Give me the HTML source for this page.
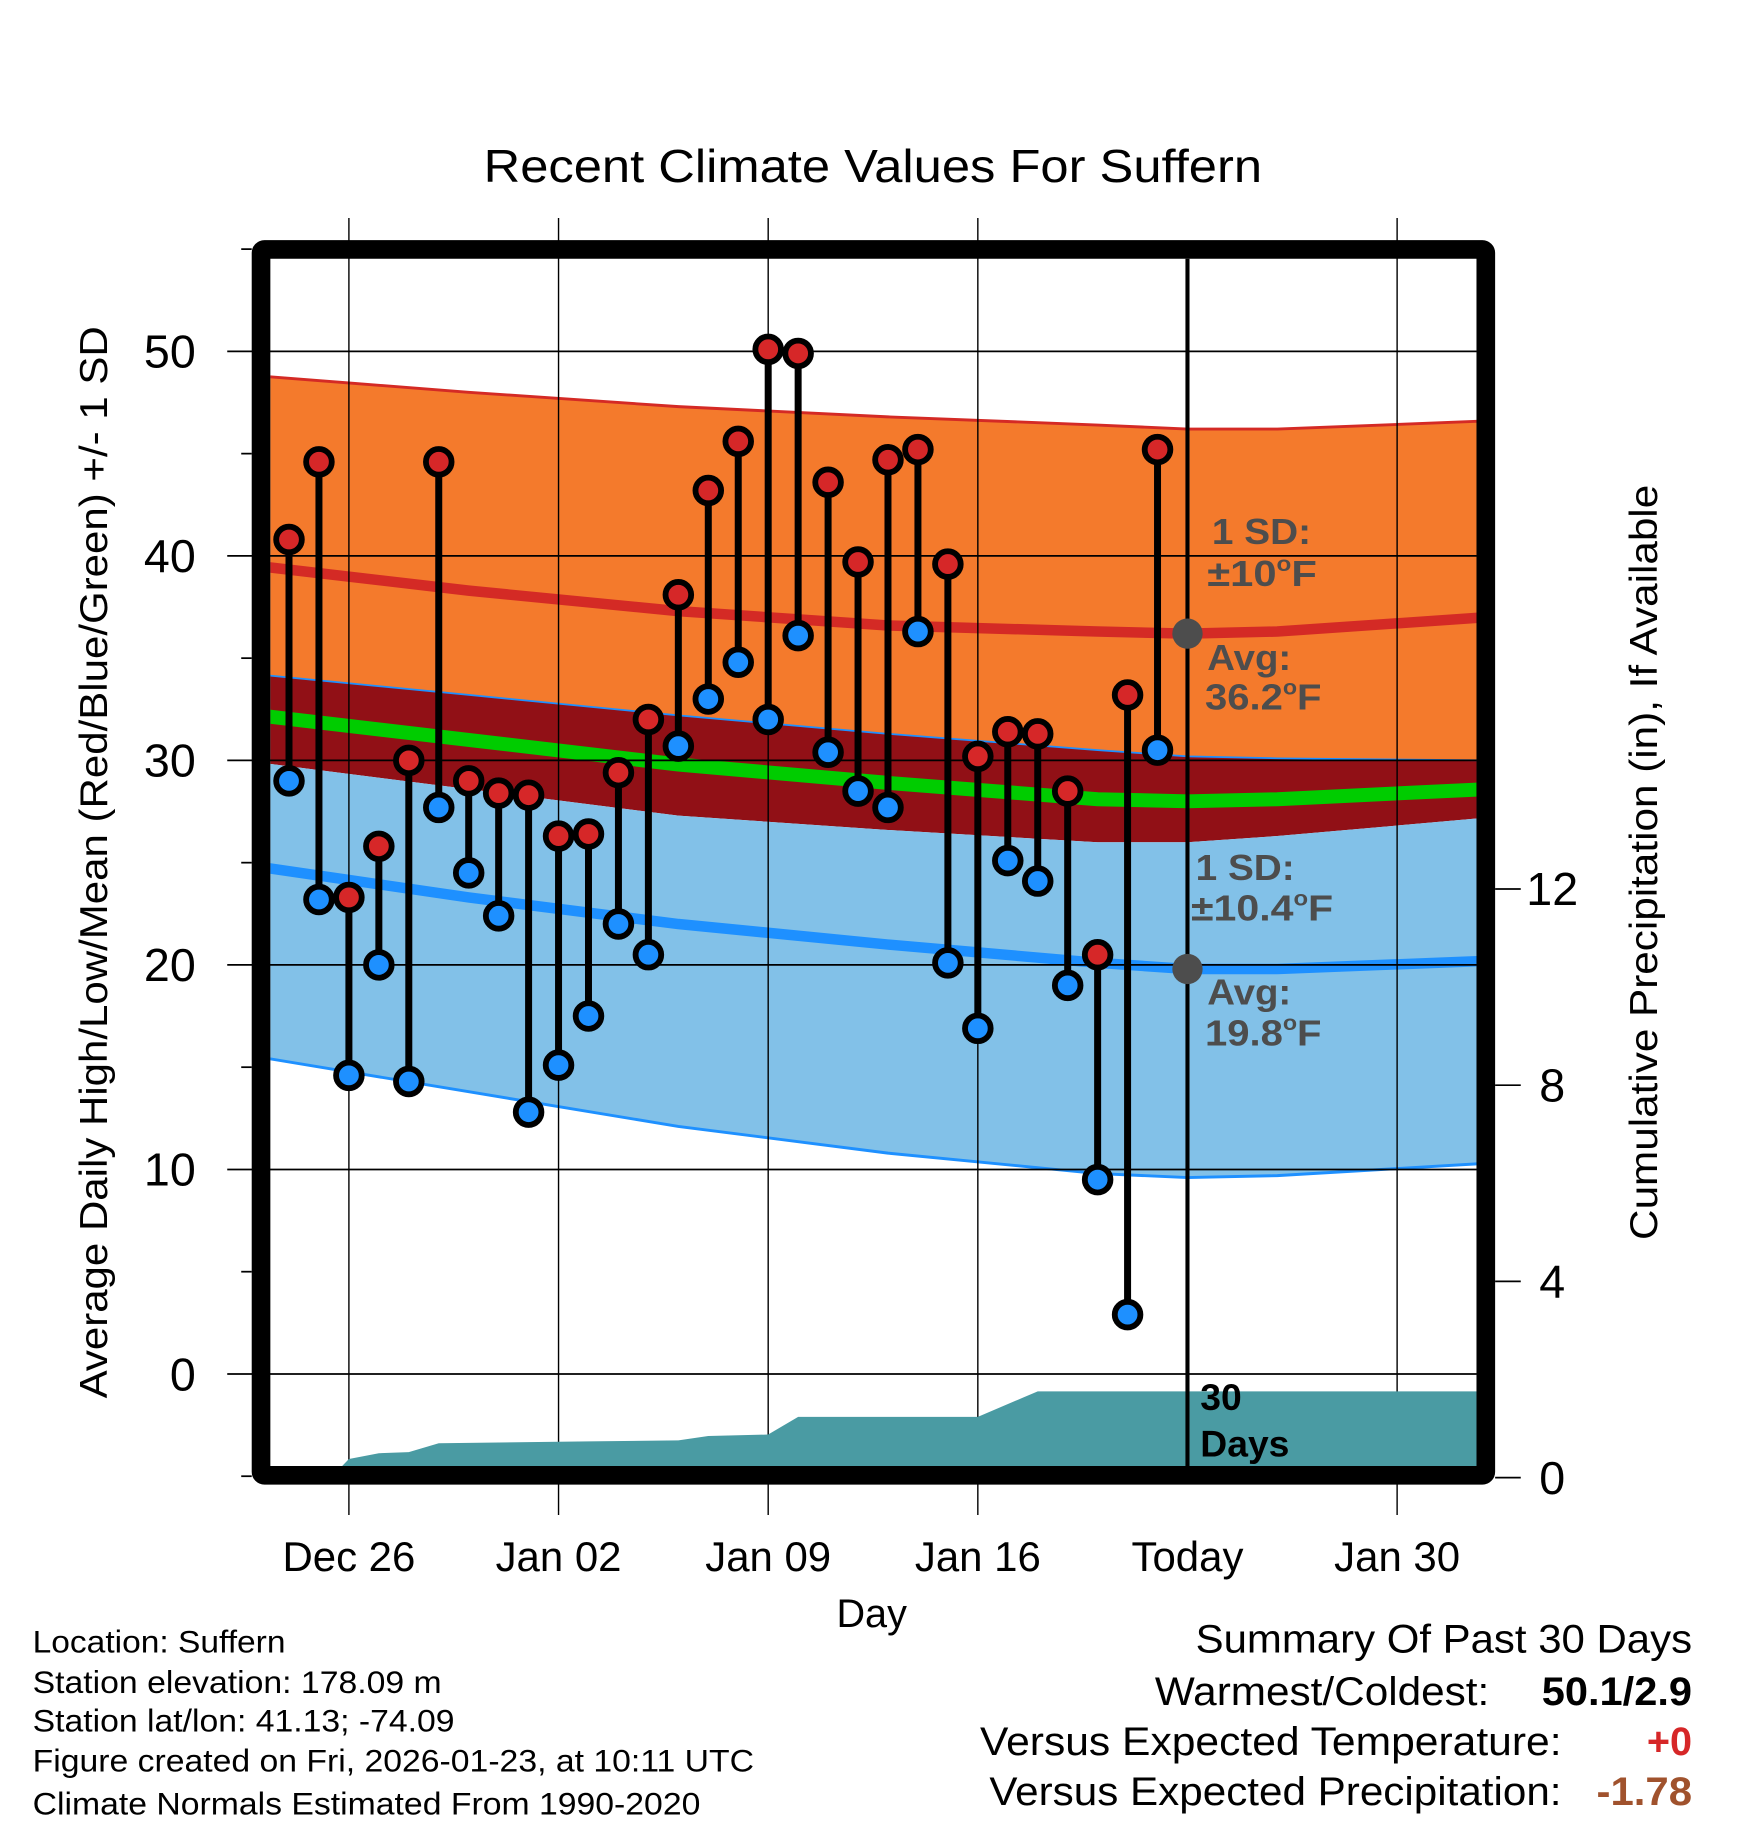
<!DOCTYPE html>
<html><head><meta charset="utf-8"><style>
html,body{margin:0;padding:0;background:#fff;}
svg{display:block;font-family:"Liberation Sans",Arial,sans-serif;}
</style></head><body>
<svg id="chart" width="1748" height="1828" viewBox="0 0 1500 1568.6" xmlns="http://www.w3.org/2000/svg">
<text x="749" y="156" font-size="40" text-anchor="middle" textLength="668" lengthAdjust="spacingAndGlyphs">Recent Climate Values For Suffern</text>
<g id="bands"></g>
<g id="grid"></g>
<g id="precip"></g>
<g id="series"></g>
<g id="annot"></g>
<g id="axes"></g>
<text transform="translate(92,740) rotate(-90)" font-size="33" text-anchor="middle" textLength="920" lengthAdjust="spacingAndGlyphs">Average Daily High/Low/Mean (Red/Blue/Green) +/- 1 SD</text>
<text transform="translate(1422,740) rotate(-90)" font-size="33" text-anchor="middle" textLength="648" lengthAdjust="spacingAndGlyphs">Cumulative Precipitation (in), If Available</text>
<text x="748" y="1396" font-size="34" text-anchor="middle">Day</text>
<g font-size="27">
<text x="28" y="1418" textLength="217" lengthAdjust="spacingAndGlyphs">Location: Suffern</text>
<text x="28" y="1453" textLength="351" lengthAdjust="spacingAndGlyphs">Station elevation: 178.09 m</text>
<text x="28" y="1486" textLength="362" lengthAdjust="spacingAndGlyphs">Station lat/lon: 41.13; -74.09</text>
<text x="28" y="1520" textLength="619" lengthAdjust="spacingAndGlyphs">Figure created on Fri, 2026-01-23, at 10:11 UTC</text>
<text x="28" y="1557" textLength="573" lengthAdjust="spacingAndGlyphs">Climate Normals Estimated From 1990-2020</text>
</g>
<g font-size="34">
<text x="1026" y="1418" textLength="426" lengthAdjust="spacingAndGlyphs">Summary Of Past 30 Days</text>
<text x="991" y="1463" textLength="287" lengthAdjust="spacingAndGlyphs">Warmest/Coldest:</text>
<text x="1323" y="1463" font-weight="bold" textLength="129" lengthAdjust="spacingAndGlyphs">50.1/2.9</text>
<text x="841" y="1506" textLength="499" lengthAdjust="spacingAndGlyphs">Versus Expected Temperature:</text>
<text x="1452" y="1506" text-anchor="end" font-weight="bold" fill="#d62728">+0</text>
<text x="849" y="1549" textLength="491" lengthAdjust="spacingAndGlyphs">Versus Expected Precipitation:</text>
<text x="1370" y="1549" font-weight="bold" fill="#a0522d" textLength="82" lengthAdjust="spacingAndGlyphs">-1.78</text>
</g>
</svg>
<script>
// ---- data ----
const dayOffsets = [-30,-29,-28,-27,-26,-25,-24,-23,-22,-21,-20,-19,-18,-17,-16,-15,-14,-13,-12,-11,-10,-9,-8,-7,-6,-5,-4,-3,-2,-1];
const highs = [40.8,44.6,23.3,25.8,30.0,44.6,29.0,28.4,28.3,26.3,26.4,29.4,32.0,38.1,43.2,45.6,50.1,49.9,43.6,39.7,44.7,45.2,39.6,30.2,31.4,31.3,28.5,20.5,33.2,45.2];
const lows = [29.0,23.2,14.6,20.0,14.3,27.7,24.5,22.4,12.8,15.1,17.5,22.0,20.5,30.7,33.0,34.8,32.0,36.1,30.4,28.5,27.7,36.3,20.1,16.9,25.1,24.1,19.0,9.5,2.9,30.5];
const normDays = [-31,-24,-17,-10,-3,0,3,10];
const highPlus = [48.8,48.0,47.3,46.8,46.4,46.2,46.2,46.6];
const highAvg = [39.5,38.3,37.3,36.6,36.3,36.2,36.3,37.0];
const highMinus = [34.2,33.2,32.2,31.3,30.5,30.2,30.1,30.0];
const meanAvg = [32.2,31.0,29.8,28.9,28.1,28.0,28.1,28.6];
const lowPlus = [29.9,28.6,27.3,26.6,26.0,26.0,26.3,27.2];
const lowAvg = [24.8,23.3,22.0,21.0,20.1,19.8,19.8,20.2];
const lowMinus = [15.5,13.8,12.1,10.8,9.8,9.6,9.7,10.3];
const precipDays = [-28.6,-28,-27,-26,-25,-20,-17,-16,-14,-13,-7,-5,10];
const precipVals = [0,0.38,0.5,0.52,0.7,0.74,0.76,0.85,0.88,1.24,1.24,1.76,1.76];
const xTickDays = [-28,-21,-14,-7,0,7];
const xTickLabels = ["Dec 26","Jan 02","Jan 09","Jan 16","Today","Jan 30"];
const yTicks = [0,10,20,30,40,50];
const y2Ticks = [0,4,8,12];

// ---- scales ----
const X = d => 1019 + d*25.7;
const Y = v => 1179 - v*17.55;
const Y2 = p => 1268 - p*42.1;
const NS = "http://www.w3.org/2000/svg";
function mk(tag, attrs, parent){const e=document.createElementNS(NS,tag);for(const k in attrs)e.setAttribute(k,attrs[k]);parent.appendChild(e);return e;}
const G = id => document.getElementById(id);
function pts(arr){return normDays.map((d,i)=>X(d).toFixed(1)+","+Y(arr[i]).toFixed(1));}
const clipL=232, clipR=1267;

const defs = mk('defs',{},G('chart'));
const cp = mk('clipPath',{id:'plotclip'},defs);
mk('rect',{x:clipL,y:222,width:clipR-clipL,height:1037},cp);

const bands=G('bands'); bands.setAttribute('clip-path','url(#plotclip)');
function band(top,bot,fill,name){
  const p = pts(top).concat(pts(bot).reverse());
  const e = mk('polygon',{points:p.join(' '),fill:fill},bands);
  
  
}
band(highPlus,highMinus,'#f47a2c','high-sd-band');
band(highMinus,lowPlus,'#911016','overlap-band');
band(lowPlus,lowMinus,'#82c1e8','low-sd-band');
function line(arr,color,w,name){
  const e = mk('polyline',{points:pts(arr).join(' '),fill:'none',stroke:color,'stroke-width':w},bands);
  
  
}
line(highPlus,'#d42a25',2.5,'high-plus-sd-line');
line(highAvg,'#d42a25',9,'high-avg-line');
line(highMinus,'#1e90ff',1.5,'high-minus-sd-line');
line(meanAvg,'#00cc00',12,'mean-avg-line');
line(lowAvg,'#1e90ff',9,'low-avg-line');
line(lowMinus,'#1e90ff',2.5,'low-minus-sd-line');

const grid=G('grid');
xTickDays.forEach((d,i)=>{
  const e=mk('line',{x1:X(d),x2:X(d),y1:187,y2:1300,stroke:'#000','stroke-width':i==4?0:1.2},grid);
  
  
  const t=mk('text',{x:X(d),y:1348,'font-size':36,'text-anchor':'middle'},G('axes'));
  t.textContent=xTickLabels[i];
  
  
});
yTicks.forEach(v=>{
  const e=mk('line',{x1:195,x2:clipR,y1:Y(v),y2:Y(v),stroke:'#000','stroke-width':1.5},grid);
  
  
  const t=mk('text',{x:168,y:Y(v)+14,'font-size':40,'text-anchor':'end'},G('axes'));
  t.textContent=v;
  
  
});
for(let v=-5;v<=55;v+=5){ if(v%10) mk('line',{x1:207,x2:216,y1:Y(v),y2:Y(v),stroke:'#000','stroke-width':1.5},G('axes')); }
y2Ticks.forEach(p=>{
  mk('line',{x1:1283,x2:1305,y1:Y2(p),y2:Y2(p),stroke:'#000','stroke-width':1.5},G('axes'));
  const t=mk('text',{x:1332,y:Y2(p)+14,'font-size':40,'text-anchor':'middle'},G('axes'));
  t.textContent=p;
  
  
});

const pg=G('precip'); pg.setAttribute('clip-path','url(#plotclip)');
const pp=precipDays.map((d,i)=>X(d).toFixed(1)+","+Y2(precipVals[i]).toFixed(1));
pp.push(X(10)+","+Y2(0)); pp.push(X(-28.6)+","+Y2(0));
const pa=mk('polygon',{points:pp.join(' '),fill:'#4a9ba3'},pg);



const tl=mk('line',{x1:X(0),x2:X(0),y1:222,y2:1259,stroke:'#000','stroke-width':3.5},G('series'));



const sg=G('series');
dayOffsets.forEach((d,i)=>{
  const x=X(d);
  const s=mk('line',{x1:x,x2:x,y1:Y(highs[i]),y2:Y(lows[i]),stroke:'#000','stroke-width':6},sg);
  
  
  [[highs[i],'#d62728','high-point'],[lows[i],'#1e90ff','low-point']].forEach(([v,c,n])=>{
    const o=mk('circle',{cx:x,cy:Y(v),r:11,fill:c,stroke:'#000','stroke-width':5},sg);
    
    
  });
});

const an=G('annot');
function at(x,y,txt,name,len){const t=mk('text',{x:x,y:y,'font-size':31,'font-weight':'bold',fill:'#4d4d4d',textLength:len,lengthAdjust:'spacingAndGlyphs'},an);t.innerHTML=txt;}
const sup='<tspan font-size="18" dy="-13">o</tspan><tspan dy="13">F</tspan>';
at(1040,467,'1 SD:','high-sd-label',85);
at(1036,503,'±10'+sup,'high-sd-value',94);
at(1036,575,'Avg:','high-avg-label',72);
at(1034,609,'36.2'+sup,'high-avg-value',100);
at(1026,755,'1 SD:','low-sd-label',85);
at(1022,790,'±10.4'+sup,'low-sd-value',122);
at(1036,862,'Avg:','low-avg-label',72);
at(1034,897,'19.8'+sup,'low-avg-value',100);
[[36.2,'high-avg-marker'],[19.8,'low-avg-marker']].forEach(([v,n])=>{
  const c=mk('circle',{cx:X(0),cy:Y(v),r:13,fill:'#4d4d4d'},an);
  
  
});
const d30=mk('text',{x:1030,y:1210,'font-size':32,'font-weight':'bold'},an);
d30.innerHTML='30<tspan x="1030" dy="40">Days</tspan>';



const fr=mk('rect',{x:224,y:214,width:1051,height:1052,fill:'none',stroke:'#000','stroke-width':16,rx:3},G('axes'));


</script>
</body></html>
